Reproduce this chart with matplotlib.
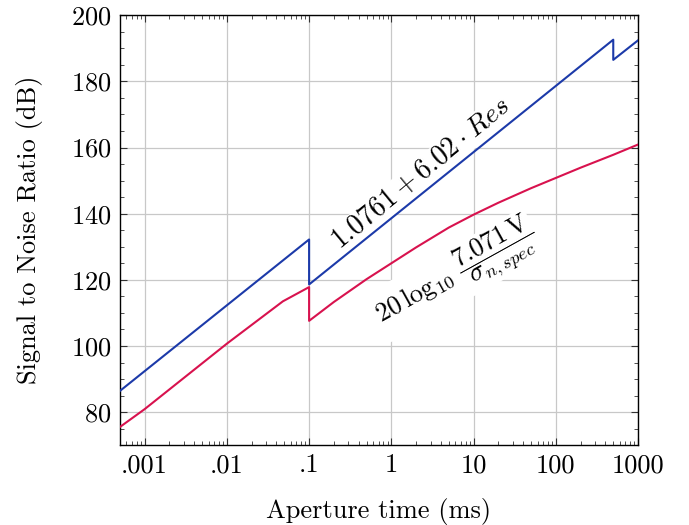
import matplotlib
matplotlib.use("Agg")
import matplotlib.pyplot as plt
from matplotlib.ticker import FixedLocator, LogLocator, MultipleLocator, NullFormatter

plt.rcParams['font.family'] = 'serif'
plt.rcParams['font.serif'] = ['cmr10']
plt.rcParams['mathtext.fontset'] = 'cm'
plt.rcParams['axes.formatter.use_mathtext'] = True

# Data (aperture time in ms, SNR in dB)
blue_t = [0.0005, 0.1, 0.1, 500, 500, 1000]
blue_snr = [86.4, 132.2, 118.6, 192.6, 186.5, 192.4]

red_t = [0.0005, 0.001, 0.01, 0.048, 0.1, 0.1, 0.2, 0.5, 1, 2, 5, 10, 20, 50, 100, 200, 500, 1000]
red_snr = [75.5, 80.9, 100.7, 113.5, 117.8, 107.6, 113.3, 120.2, 125.0, 129.8, 135.8, 139.7,
           143.3, 147.7, 150.8, 153.9, 157.8, 160.9]

xticks = [0.001, 0.01, 0.1, 1, 10, 100, 1000]
xticklabels = ['.001', '.01', '.1', '1', '10', '100', '1000']
yticks = [80, 100, 120, 140, 160, 180, 200]

fig = plt.figure(figsize=(6.89, 5.25), dpi=100)
ax = fig.add_axes([0.174, 0.152, 0.752, 0.819])

ax.plot(blue_t, blue_snr, color='#1c3aa9', lw=1.5, zorder=3)
ax.plot(red_t, red_snr, color='#d8124e', lw=1.5, zorder=3)

ax.set_xscale('log')
ax.set_xlim(0.0005, 1000)
ax.set_ylim(70, 200)
ax.xaxis.set_major_locator(FixedLocator(xticks))
ax.set_xticklabels(xticklabels)
ax.xaxis.set_minor_locator(LogLocator(base=10, subs=range(2, 10), numticks=20))
ax.xaxis.set_minor_formatter(NullFormatter())
ax.set_yticks(yticks)
ax.yaxis.set_minor_locator(MultipleLocator(5))

ax.grid(True, which='major', color='#c8c8c8', lw=0.9, zorder=0)
ax.set_axisbelow(True)
ax.tick_params(which='both', direction='in', top=True, right=True, labelsize=19, colors='#333333',
               labelcolor='black')
ax.tick_params(which='major', length=5, width=0.8)
ax.tick_params(which='minor', length=3, width=0.6)
ax.tick_params(axis='x', pad=6)
ax.tick_params(axis='y', pad=6)
for s in ax.spines.values():
    s.set_linewidth(1.0)

ax.set_xlabel('Aperture time (ms)', fontsize=19, labelpad=15)
ax.set_ylabel('Signal to Noise Ratio (dB)', fontsize=19, labelpad=20)

ax.text(2.3, 152.0, r'$1.0761 + 6.02\cdot Res$', rotation=39.5, fontsize=20,
        ha='center', va='center', rotation_mode='anchor', zorder=2,
        bbox=dict(facecolor='white', edgecolor='none', pad=1))
ax.text(6.2, 121.5, r'$20\,\log_{10}\,\dfrac{7.071\,\mathrm{V}}{\sigma_{n,spec}}$', rotation=29,
        fontsize=19, ha='center', va='center', rotation_mode='anchor', zorder=2,
        bbox=dict(facecolor='white', edgecolor='none', pad=1))

fig.savefig('out.png', dpi=100)
